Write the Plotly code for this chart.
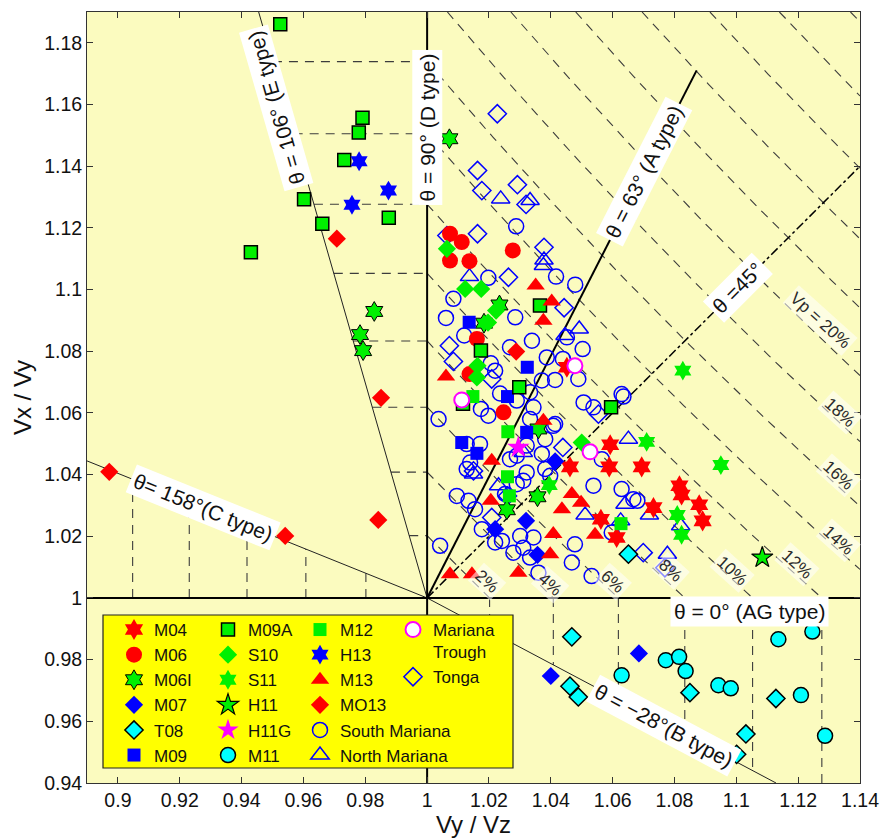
import numpy as np
import plotly.graph_objects as go

# ---------------- data (Vy/Vz, Vx/Vy) ----------------
M04_x = [1.0452, 1.0592, 1.0589, 1.0694, 1.0462, 1.0816, 1.0823, 1.0880, 1.0891, 1.0732, 1.0562, 1.0613]
M04_y = [1.0748, 1.0497, 1.0425, 1.0425, 1.0425, 1.0364, 1.0334, 1.0302, 1.0250, 1.0293, 1.0255, 1.0196]

M06_x = [1.0074, 1.0112, 1.0074, 1.0137, 1.0277, 1.0161, 1.0137, 1.0247]
M06_y = [1.1181, 1.1154, 1.1094, 1.1092, 1.1127, 1.0840, 1.0726, 1.0602]

M06I_x = [1.0072, 1.0234, 1.0184, 1.0360, 1.0357, 1.0258, 0.9829, 0.9783, 0.9793]
M06I_y = [1.1489, 1.0950, 1.0891, 1.0548, 1.0328, 1.0286, 1.0929, 1.0854, 1.0802]

M07_x = [1.0400, 1.0685, 1.0414, 1.0220, 1.0320, 1.0357]
M07_y = [0.9747, 0.9820, 1.0443, 1.0223, 1.0250, 1.0140]

T08_x = [1.0468, 1.0462, 1.0489, 1.0850, 1.1128, 1.1031, 1.1001, 1.0651]
T08_y = [0.9874, 0.9714, 0.9679, 0.9693, 0.9674, 0.9559, 0.9493, 1.0142]

M09_x = [1.0136, 1.0324, 1.0260, 1.0322, 1.0112, 1.0161]
M09_y = [1.0894, 1.0748, 1.0653, 1.0537, 1.0504, 1.0469]

M09A_x = [0.9525, 0.9791, 0.9779, 0.9732, 0.9602, 0.9661, 0.9876, 0.9430, 1.0365, 1.0174, 1.0298, 1.0595, 1.0116]
M09A_y = [1.1860, 1.1557, 1.1509, 1.1420, 1.1293, 1.1213, 1.1233, 1.1121, 1.0948, 1.0802, 1.0683, 1.0618, 1.0630]

S10_x = [1.0064, 1.0123, 1.0175, 1.0223, 1.0197, 1.0163, 1.0161, 1.0500]
S10_y = [1.1132, 1.1002, 1.1002, 1.0932, 1.0893, 1.0753, 1.0715, 1.0504]

S11_x = [1.0395, 1.0710, 1.0827, 1.0950, 1.0809, 1.0823]
S11_y = [1.0366, 1.0506, 1.0737, 1.0431, 1.0269, 1.0205]

H11_x = [1.1084]
H11_y = [1.0131]

H11G_x = [1.0295]
H11G_y = [1.0488]

M11_x = [1.1136, 1.1246, 1.0772, 1.0815, 1.0836, 1.0629, 1.0942, 1.0982, 1.1209, 1.1287]
M11_y = [0.9866, 0.9891, 0.9798, 0.9809, 0.9763, 0.9749, 0.9717, 0.9707, 0.9685, 0.9553]

M12_x = [1.0148, 1.0261, 1.0260, 1.0266, 1.0627]
M12_y = [1.0653, 1.0539, 1.0393, 1.0331, 1.0241]

H13_x = [0.9780, 0.9875, 0.9757]
H13_y = [1.1416, 1.1321, 1.1275]

M13_x = [1.0351, 1.0403, 1.0376, 1.0061, 1.0209, 1.0206, 1.0468, 1.0498, 1.0436, 1.0408,
         1.0398, 1.0543, 1.0074, 1.0145, 1.0295, 1.0376]
M13_y = [1.1013, 1.0961, 1.0899, 1.0718, 1.0445, 1.0315, 1.0337, 1.0309, 1.0288, 1.0207,
         1.0142, 1.0205, 1.0077, 1.0077, 1.0082, 1.0575]

MO13_x = [0.9708, 0.8972, 0.9541, 0.9851, 0.9842, 1.0288]
MO13_y = [1.1165, 1.0409, 1.0201, 1.0649, 1.0253, 1.0799]

TROUGH_x = [1.0112, 1.0478, 1.0527]
TROUGH_y = [1.0642, 1.0753, 1.0474]

TONGA_x = [1.0227, 1.0163, 1.0177, 1.0292, 1.0320, 1.0064, 1.0163, 1.0263, 1.0378, 1.0443,
           1.0072, 1.0085, 1.0209, 1.0554, 1.0150, 1.0209, 1.0260, 1.0439, 1.0699, 1.0769]
TONGA_y = [1.1570, 1.1386, 1.1321, 1.1340, 1.1276, 1.1175, 1.1181, 1.1040, 1.1137, 1.0941,
           1.0818, 1.0767, 1.0710, 1.0596, 1.0412, 1.0261, 1.0331, 1.0488, 1.0147, 1.0098]

NMAR_x = [1.0238, 1.0333, 1.0137, 1.0378, 1.0376, 1.0492, 1.0446, 1.0311, 1.0651, 1.0231,
          1.0150, 1.0511, 1.0640, 1.0719, 1.0820, 1.0777, 1.0626]
NMAR_y = [1.1294, 1.1289, 1.1042, 1.1096, 1.1078, 1.0872, 1.0851, 1.0472, 1.0515, 1.0364,
          1.0402, 1.0269, 1.0304, 1.0269, 1.0234, 1.0142, 1.0250]

SMAR_x = [1.0288, 1.0198, 1.0479, 1.0417, 1.0085, 1.0061, 1.0285, 1.0120, 1.0206, 1.0268,
          1.0339, 1.0387, 1.0503, 1.0452, 1.0414, 1.0489, 1.0371, 1.0236, 1.0220, 1.0333,
          1.0439, 1.0635, 1.0506, 1.0538, 1.0414, 1.0037, 1.0174, 1.0198, 1.0290, 1.0344,
          1.0333, 1.0408, 1.0382, 1.0322, 1.0371, 1.0290, 1.0128, 1.0171, 1.0139, 1.0128,
          1.0268, 1.0322, 1.0290, 1.0382, 1.0398, 1.0538, 1.0629, 1.0667, 1.0565, 1.0478,
          1.0468, 1.0532, 1.0042, 1.0096, 1.0134, 1.0155, 1.0177, 1.0220, 1.0242, 1.0279,
          1.0301, 1.0344, 1.0311, 1.0333, 1.0360, 1.0311, 1.0252, 1.0629, 1.0680, 1.0597]
SMAR_y = [1.1205, 1.1038, 1.1016, 1.1042, 1.0970, 1.0908, 1.0910, 1.0851, 1.0761, 1.0813,
          1.0834, 1.0780, 1.0807, 1.0845, 1.0707, 1.0710, 1.0705, 1.0663, 1.0737, 1.0667,
          1.0775, 1.0653, 1.0634, 1.0618, 1.0564, 1.0580, 1.0613, 1.0591, 1.0640, 1.0618,
          1.0580, 1.0558, 1.0515, 1.0494, 1.0467, 1.0461, 1.0499, 1.0499, 1.0439, 1.0418,
          1.0450, 1.0407, 1.0369, 1.0418, 1.0396, 1.0364, 1.0353, 1.0320, 1.0450, 1.0174,
          1.0115, 1.0071, 1.0169, 1.0331, 1.0315, 1.0288, 1.0223, 1.0180, 1.0185, 1.0147,
          1.0201, 1.0196, 1.0163, 1.0131, 1.0082, 1.0380, 1.0337, 1.0661, 1.0315, 1.0212]

X_TICKS = [0.90, 0.92, 0.94, 0.96, 0.98, 1.00, 1.02, 1.04, 1.06, 1.08, 1.10, 1.12, 1.14]
X_TICKTEXT = ["0.9", "0.92", "0.94", "0.96", "0.98", "1", "1.02", "1.04", "1.06", "1.08", "1.1", "1.12", "1.14"]
Y_TICKS = [0.94, 0.96, 0.98, 1.00, 1.02, 1.04, 1.06, 1.08, 1.10, 1.12, 1.14, 1.16, 1.18]
Y_TICKTEXT = ["0.94", "0.96", "0.98", "1", "1.02", "1.04", "1.06", "1.08", "1.1", "1.12", "1.14", "1.16", "1.18"]

ANISO_UR = [0.02, 0.04, 0.06, 0.08, 0.10, 0.12, 0.14, 0.16, 0.18, 0.20, 0.22, 0.24, 0.26, 0.28, 0.30]
ANISO_UL = [0.02, 0.04, 0.06, 0.08, 0.10, 0.12, 0.14, 0.16]
ANISO_LL = [0.02, 0.04, 0.06, 0.08, 0.10]
ANISO_LR = [0.02, 0.04, 0.06, 0.08, 0.10, 0.12]

XMIN, XMAX, YMIN, YMAX = 0.89, 1.14, 0.94, 1.19
FONT = "Liberation Sans, Arial, Helvetica, sans-serif"

fig = go.Figure()


def guide(xs, ys, color="#3c3c3c", width=1.1, dash="9px,7px"):
    fig.add_trace(go.Scatter(x=list(xs), y=list(ys), mode="lines",
                             line=dict(color=color, width=width, dash=dash),
                             hoverinfo="skip", showlegend=False))


t = np.radians
# anisotropy contours (2(Vmax-Vmin)/(Vmax+Vmin))
for a in ANISO_UR:
    c = (2 + a) / (2 - a)
    xs = np.linspace(max(1.0, c / YMAX), min(c, XMAX), 60)
    guide(xs, c / xs)
for a in ANISO_UL:
    c = (2 + a) / (2 - a)
    guide([1 + (c - 1) / np.tan(t(106)), 1.0], [c, c])
for a in ANISO_LL:
    c = (2 - a) / (2 + a)
    guide([c, c], [1.0, 1 + (c - 1) * np.tan(t(158))])
for a in ANISO_LR:
    c = (2 + a) / (2 - a)
    guide([c, c], [1.0, max(YMIN, 1 + (c - 1) * np.tan(t(-28)))])

# fabric-type lines
guide([1.0, 1 + (YMAX - 1) / np.tan(t(106))], [1.0, YMAX], color="#222", width=1, dash="solid")
guide([1.0, XMIN], [1.0, 1 + (XMIN - 1) * np.tan(t(158))], color="#222", width=1, dash="solid")
guide([1.0, 1 + (YMIN - 1) / np.tan(t(-28))], [1.0, YMIN], color="#222", width=1, dash="solid")
guide([1.0, 1 + 0.192 * np.cos(t(63))], [1.0, 1 + 0.192 * np.sin(t(63))], color="black", width=2, dash="solid")
guide([1.0, XMAX], [1.0, XMAX], color="black", width=1.5, dash="dashdot")
guide([1.0, 1.0], [YMIN, YMAX], color="black", width=2, dash="solid")
guide([XMIN, XMAX], [1.0, 1.0], color="black", width=2, dash="solid")


def pts(name, xs, ys, symbol, color, size, lcolor=None, lwidth=0, legend="legend"):
    fig.add_trace(go.Scatter(
        x=xs, y=ys, mode="markers", name=name, legend=legend,
        marker=dict(symbol=symbol, color=color, size=size,
                    line=dict(color=lcolor if lcolor else color, width=lwidth))))


BLUE, RED, GREEN, CYAN, MAG = "#0000ff", "#ff0000", "#00f000", "#00ffff", "#ff00ff"

pts("South Mariana", SMAR_x, SMAR_y, "circle-open", BLUE, 15, BLUE, 1.5, "legend3")
pts("North Mariana", NMAR_x, NMAR_y, "triangle-up-open", BLUE, 16, BLUE, 1.5, "legend3")
pts("Tonga", TONGA_x, TONGA_y, "diamond-open", BLUE, 14, BLUE, 1.5, "legend4")
pts("M04", M04_x, M04_y, "hexagram", RED, 16, legend="legend")
pts("M06", M06_x, M06_y, "circle", RED, 16, legend="legend")
pts("M06I", M06I_x, M06I_y, "hexagram", GREEN, 15, "black", 1, "legend")
pts("M07", M07_x, M07_y, "diamond", BLUE, 14, legend="legend")
pts("T08", T08_x, T08_y, "diamond", CYAN, 14, "black", 1.5, "legend")
pts("M09", M09_x, M09_y, "square", BLUE, 13, legend="legend")
pts("M09A", M09A_x, M09A_y, "square", GREEN, 13, "black", 1.5, "legend2")
pts("S10", S10_x, S10_y, "diamond", GREEN, 14, legend="legend2")
pts("S11", S11_x, S11_y, "hexagram", GREEN, 15, legend="legend2")
pts("H11", H11_x, H11_y, "star", GREEN, 16, "black", 1.2, "legend2")
pts("H11G", H11G_x, H11G_y, "star", MAG, 17, legend="legend2")
pts("M11", M11_x, M11_y, "circle", CYAN, 15, "black", 1.5, "legend2")
pts("M12", M12_x, M12_y, "square", GREEN, 13, legend="legend3")
pts("H13", H13_x, H13_y, "hexagram", BLUE, 15, legend="legend3")
pts("M13", M13_x, M13_y, "triangle-up", RED, 16, legend="legend3")
pts("MO13", MO13_x, MO13_y, "diamond", RED, 14, legend="legend3")
pts("Mariana<br>Trough", TROUGH_x, TROUGH_y, "circle", "white", 15, MAG, 2, "legend4")

legend3_order = ["M12", "H13", "M13", "MO13", "South Mariana", "North Mariana"]
legend4_order = ["Mariana<br>Trough", "Tonga"]
for tr in fig.data:
    if tr.name in legend3_order:
        tr.legendrank = legend3_order.index(tr.name)
    if tr.name in legend4_order:
        tr.legendrank = legend4_order.index(tr.name)

# ---------------- labels ----------------
ann = []
big = dict(family=FONT, size=21, color="#111")
for text, x, y, ang in [
    ("θ = 106° (E type)", 0.9512, 1.159, -106),
    ("θ = 90° (D type)", 1.0, 1.1526, -90),
    ("θ = 63° (A type)", 1.0702, 1.1383, -63),
    ("θ =45°", 1.1006, 1.1006, -45),
    ("θ = 0° (AG type)", 1.1044, 0.9955, 0),
    ("θ= 158°(C type)", 0.9276, 1.0292, 22),
    ("θ = −28°(B type)", 1.0764, 0.9585, 28),
]:
    ann.append(dict(x=x, y=y, xref="x", yref="y", text=text, showarrow=False,
                    textangle=ang, font=big, bgcolor="white", borderpad=3))
small = dict(family=FONT, size=17, color="#2a2a2a")
for text, x, y in [
    ("2%", 1.0194, 1.0055), ("4%", 1.0398, 1.0045), ("6%", 1.0599, 1.0052),
    ("8%", 1.0786, 1.0088), ("10%", 1.0985, 1.0088), ("12%", 1.1197, 1.0109),
    ("14%", 1.1330, 1.0185), ("16%", 1.1330, 1.0396), ("18%", 1.1335, 1.0602),
    ("Vp = 20%", 1.1271, 1.0899),
]:
    ann.append(dict(x=x, y=y, xref="x", yref="y", text=text, showarrow=False,
                    textangle=42, font=small, bgcolor="rgba(255,255,255,0.55)", borderpad=2))

# legend frame
W, H = 773, 771
def px_to_paper_x(p):
    return (p - 87) / W
def px_to_paper_y(p):
    return (783 - p) / H

shapes = [dict(type="rect", xref="paper", yref="paper",
               x0=px_to_paper_x(103), x1=px_to_paper_x(513),
               y0=px_to_paper_y(768), y1=px_to_paper_y(615),
               fillcolor="#ffff00", line=dict(color="#222", width=1.2), layer="above")]

leg_common = dict(bgcolor="rgba(0,0,0,0)", borderwidth=0, orientation="v",
                  font=dict(family=FONT, size=17, color="#111"),
                  yanchor="top", xanchor="left", y=px_to_paper_y(612),
                  valign="top", tracegroupgap=0)

fig.update_layout(
    width=882, height=839,
    margin=dict(l=87, r=22, t=12, b=56, autoexpand=False),
    paper_bgcolor="white", plot_bgcolor="#fbfbbf",
    font=dict(family=FONT, color="#111"),
    annotations=ann, shapes=shapes,
    legend=dict(leg_common, x=px_to_paper_x(114)),
    legend2=dict(leg_common, x=px_to_paper_x(208)),
    legend3=dict(leg_common, x=px_to_paper_x(300)),
    legend4=dict(leg_common, x=px_to_paper_x(393)),
    xaxis=dict(range=[XMIN, XMAX], tickvals=X_TICKS, ticktext=X_TICKTEXT, automargin=True,
               ticks="inside", ticklen=6, tickcolor="#333", showgrid=False, zeroline=False,
               showline=True, linecolor="#333", linewidth=1, mirror="ticks",
               tickfont=dict(size=19.5, family=FONT, color="#111"),
               title=dict(text="Vy / Vz", font=dict(size=24, family=FONT, color="#111"), standoff=3)),
    yaxis=dict(range=[YMIN, YMAX], tickvals=Y_TICKS, ticktext=Y_TICKTEXT, automargin=True,
               ticks="inside", ticklen=6, tickcolor="#333", showgrid=False, zeroline=False,
               showline=True, linecolor="#333", linewidth=1, mirror="ticks",
               tickfont=dict(size=19.5, family=FONT, color="#111"),
               title=dict(text="Vx / Vy", font=dict(size=24, family=FONT, color="#111"), standoff=5)),
)

fig.write_html("out.html", config={"displayModeBar": False},
               post_script="document.body.style.margin='0';document.body.style.overflow='hidden';")
